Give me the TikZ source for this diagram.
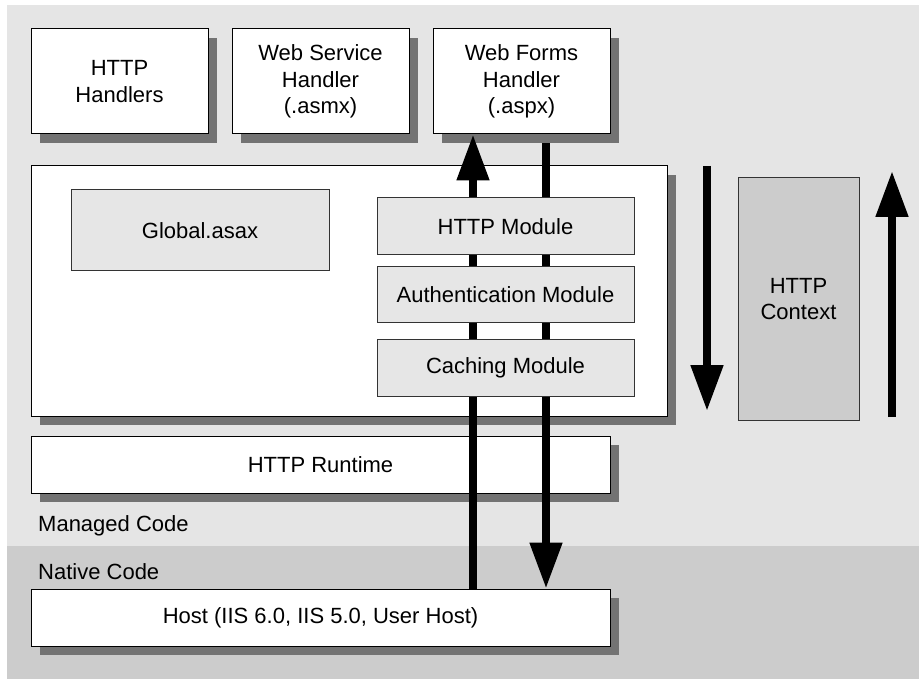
\documentclass[tikz,border=0pt]{standalone}
\usepackage{fontspec}
\setmainfont{Liberation Sans}
\usetikzlibrary{arrows.meta,shadows}
\definecolor{managedbg}{HTML}{E5E5E5}
\definecolor{nativebg}{HTML}{CCCCCC}
\definecolor{shadowgray}{HTML}{737373}
\definecolor{modfill}{HTML}{E6E6E6}
\begin{document}
\begin{tikzpicture}[x=1pt,y=-1pt,
  every node/.style={font=\fontsize{22}{26.5}\selectfont, align=center, inner sep=0pt},
  layerbox/.style={draw=black, line width=1pt, fill=white, rectangle,
    drop shadow={shadow xshift=9pt, shadow yshift=-9pt, fill=shadowgray, opacity=1}},
  modbox/.style={draw=black!80, line width=1pt, fill=modfill, rectangle,
    minimum width=257pt, minimum height=57pt},
  flow/.style={line width=8pt, -{Triangle[width=31pt,length=46pt]}}
]
% page and the two code regions
\useasboundingbox (0,0) rectangle (919,679);
\fill[managedbg] (7,5) rectangle (919,546);
\fill[nativebg] (7,546) rectangle (919,679);

% handlers
\node[layerbox, minimum width=177pt, minimum height=105pt] (hh) at (119.5,81.5) {HTTP\\Handlers};
\node[layerbox, minimum width=177pt, minimum height=105pt] (ws) at (320.5,81.5) {Web Service\\Handler\\(.asmx)};
\node[layerbox, minimum width=177pt, minimum height=105pt] (wf) at (521.5,81.5) {Web Forms\\Handler\\(.aspx)};

% application container
\node[layerbox, minimum width=636pt, minimum height=250pt] (app) at (349,291) {};
\node[draw=black!80, line width=1pt, fill=modfill, minimum width=258pt, minimum height=81pt] (glob) at (200,230.5) {Global.asax};

% context
\node[draw=black!80, line width=1pt, fill=nativebg, minimum width=121pt, minimum height=242pt] (ctx) at (798.5,299) {HTTP\\Context};

% runtime and host
\node[layerbox, minimum width=579pt, minimum height=57pt] (rt) at (320.5,464.5) {HTTP Runtime};
\node[layerbox, minimum width=579pt, minimum height=57pt] (host) at (320.5,617.5) {Host (IIS 6.0, IIS 5.0, User Host)};

% region labels
\node[anchor=west] (managed) at (38,526) {Managed Code};
\node[anchor=west] (native) at (38,572) {Native Code};

% request / response flow
\coordinate (upx) at (473,0);
\coordinate (downx) at (546,0);
\draw[flow] (host.north -| upx) -- (wf.south -| upx);
\draw[flow] ([yshift=-9pt]wf.south -| downx) -- (host.north -| downx);

\coordinate (ctxdowntop) at (707,166);
\coordinate (ctxdownend) at (707,411);
\coordinate (ctxupbot) at (892,417);
\coordinate (ctxuptop) at (892,171);
\draw[flow] (ctxdowntop) -- (ctxdownend);
\draw[flow] (ctxupbot) -- (ctxuptop);

% modules sit on top of the flow
\node[modbox] (mod) at (505.5,226.5) {HTTP Module};
\node[modbox, minimum height=56pt] (auth) at (505.5,295) {Authentication Module};
\node[modbox] (cache) at (505.5,367.5) {Caching Module};
\end{tikzpicture}
\end{document}
